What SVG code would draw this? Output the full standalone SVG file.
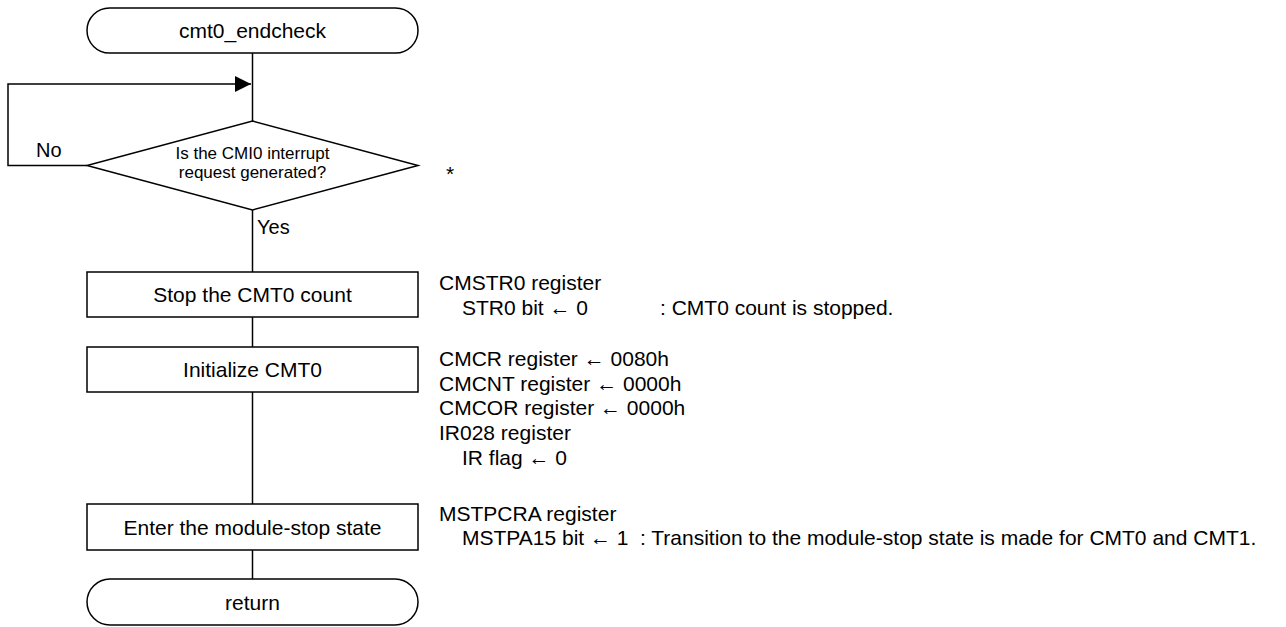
<svg xmlns="http://www.w3.org/2000/svg" width="1286" height="627" viewBox="0 0 1286 627">
  <defs>
    <style>
      .shape { fill: #ffffff; stroke: #000000; stroke-width: 1.5; }
      .wire { fill: none; stroke: #000000; stroke-width: 1.5; }
      .t { font-family: "Liberation Sans", Arial, sans-serif; font-size: 21px; fill: #000000; }
      .s { font-size: 17px; }
      .c { text-anchor: middle; }
    </style>
    <marker id="arrow" markerWidth="16" markerHeight="16" refX="16" refY="8" orient="auto" markerUnits="userSpaceOnUse">
      <path d="M0,0 L16,8 L0,16 Z" fill="#000000"/>
    </marker>
  </defs>
  <rect width="1286" height="627" fill="#ffffff"/>

  <!-- connectors -->
  <g id="connectors">
    <line class="wire" x1="252.5" y1="53" x2="252.5" y2="121"/>
    <polyline class="wire" points="87,165.5 8,165.5 8,84 251,84" marker-end="url(#arrow)"/>
    <line class="wire" x1="252.5" y1="210" x2="252.5" y2="272"/>
    <line class="wire" x1="252.5" y1="317" x2="252.5" y2="347"/>
    <line class="wire" x1="252.5" y1="392" x2="252.5" y2="504"/>
    <line class="wire" x1="252.5" y1="550" x2="252.5" y2="579"/>
    <text class="t" x="36" y="157" style="font-size:20px">No</text>
    <text class="t" x="257" y="234" style="font-size:20px">Yes</text>
  </g>

  <!-- start terminator -->
  <g id="start">
    <rect class="shape" x="87" y="8" width="331" height="45" rx="22.5" ry="22.5"/>
    <text class="t c" x="252.5" y="38">cmt0_endcheck</text>
  </g>

  <!-- interrupt check -->
  <g id="check">
    <polygon class="shape" points="252.5,121 418,165.5 252.5,210 87,165.5"/>
    <text class="t s c" x="252.5" y="159">Is the CMI0 interrupt</text>
    <text class="t s c" x="252.5" y="178">request generated?</text>
    <text class="t" x="446" y="181">*</text>
  </g>

  <!-- stop count -->
  <g id="stop">
    <rect class="shape" x="87" y="272" width="331" height="45"/>
    <text class="t c" x="252.5" y="302">Stop the CMT0 count</text>
    <text class="t" x="439" y="290">CMSTR0 register</text>
    <text class="t" x="462" y="315">STR0 bit ← 0</text>
    <text class="t" x="660" y="315">: CMT0 count is stopped.</text>
  </g>

  <!-- initialize -->
  <g id="init">
    <rect class="shape" x="87" y="347" width="331" height="45"/>
    <text class="t c" x="252.5" y="377">Initialize CMT0</text>
    <text class="t" x="439" y="366">CMCR register ← 0080h</text>
    <text class="t" x="439" y="391">CMCNT register ← 0000h</text>
    <text class="t" x="439" y="415">CMCOR register ← 0000h</text>
    <text class="t" x="439" y="440">IR028 register</text>
    <text class="t" x="462" y="465">IR flag ← 0</text>
  </g>

  <!-- module stop -->
  <g id="mstop">
    <rect class="shape" x="87" y="504" width="331" height="46"/>
    <text class="t c" x="252.5" y="534.5">Enter the module-stop state</text>
    <text class="t" x="439" y="521">MSTPCRA register</text>
    <text class="t" x="462" y="545">MSTPA15 bit ← 1</text>
    <text class="t" x="640" y="545">: Transition to the module-stop state is made for CMT0 and CMT1.</text>
  </g>

  <!-- return terminator -->
  <g id="end">
    <rect class="shape" x="87" y="579" width="331" height="46" rx="23" ry="23"/>
    <text class="t c" x="252.5" y="609.5">return</text>
  </g>
</svg>
